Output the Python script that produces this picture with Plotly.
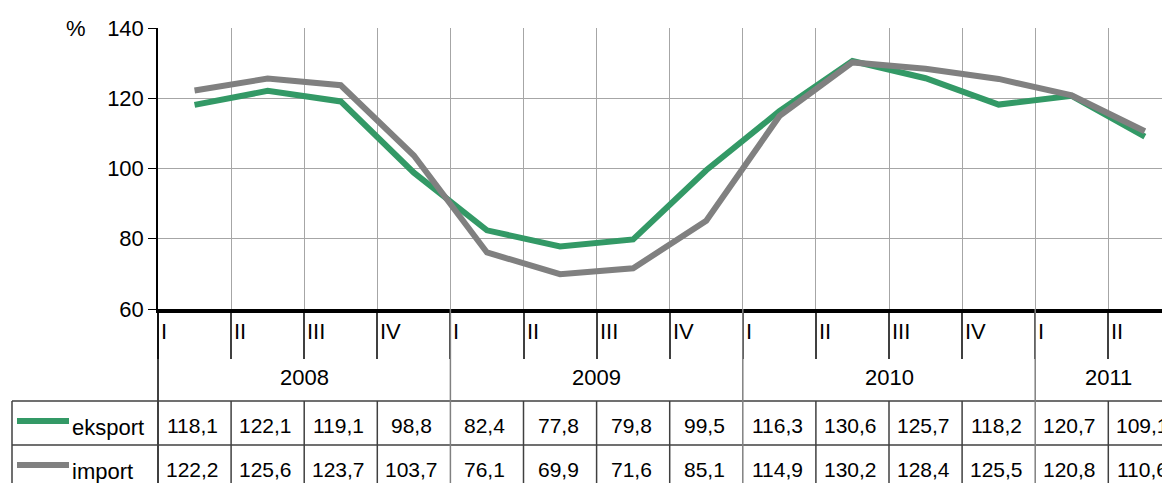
"""
Quarterly export/import indices with data table underneath.
"""
import plotly.graph_objects as go

quarters = ["I", "II", "III", "IV", "I", "II", "III", "IV", "I", "II", "III", "IV", "I", "II"]
years = ["2008", "2009", "2010", "2011"]
year_of = [0, 0, 0, 0, 1, 1, 1, 1, 2, 2, 2, 2, 3, 3]
eksport = [118.1, 122.1, 119.1, 98.8, 82.4, 77.8, 79.8, 99.5, 116.3, 130.6, 125.7, 118.2, 120.7, 109.1]
imports = [122.2, 125.6, 123.7, 103.7, 76.1, 69.9, 71.6, 85.1, 114.9, 130.2, 128.4, 125.5, 120.8, 110.6]
series_names = ["eksport", "import"]
y_ticks = [60, 80, 100, 120, 140]

GREEN = "#339966"
GRAY = "#808080"
FONT = "Liberation Sans, Arial, sans-serif"

# screen geometry; the page body adds an 8px margin around the figure
OFF = 8
SW, SH = 1170, 483
SL, ST = 158, 28
CELL = 73.1


def py(p):
    # screen pixel row -> paper y
    return (SH - p) / (SH - ST)


def px(p):
    # screen pixel column -> paper x
    return (p - SL) / (SW - SL)


def fmt(v):
    return f"{v:.1f}".replace(".", ",")


x = list(range(len(quarters)))
fig = go.Figure()
fig.add_trace(go.Scatter(x=x, y=eksport, mode="lines", line=dict(color=GREEN, width=6), name="eksport"))
fig.add_trace(go.Scatter(x=x, y=imports, mode="lines", line=dict(color=GRAY, width=6), name="import"))

shapes = []
anns = []
dark = "#404040"

# axis line extended through the table
shapes.append(dict(type="line", xref="paper", yref="paper", x0=0, x1=0, y0=py(309), y1=0,
                   line=dict(color="black", width=1.5)))
# table borders
for p in (401, 445):
    shapes.append(dict(type="line", xref="paper", yref="paper", x0=px(12), x1=1, y0=py(p), y1=py(p),
                       line=dict(color=dark, width=1.5)))
shapes.append(dict(type="line", xref="paper", yref="paper", x0=px(12), x1=px(12), y0=py(401), y1=0,
                   line=dict(color=dark, width=1.5)))
# cell separators and year boundaries
for i in range(1, len(quarters)):
    b = i - 0.5
    if year_of[i] != year_of[i - 1]:
        shapes.append(dict(type="line", xref="x", yref="paper", x0=b, x1=b, y0=py(309), y1=0,
                           line=dict(color=GRAY, width=1.5)))
    else:
        shapes.append(dict(type="line", xref="x", yref="paper", x0=b, x1=b, y0=py(401), y1=0,
                           line=dict(color=dark, width=1.5)))

# quarter labels
for i, q in enumerate(quarters):
    anns.append(dict(x=i - 0.5, y=py(331), xref="x", yref="paper", text=q, showarrow=False,
                     xanchor="left", yanchor="middle", xshift=1))
# year labels
for k, yr in enumerate(years):
    idx = [i for i, v in enumerate(year_of) if v == k]
    anns.append(dict(x=sum(idx) / len(idx), y=py(378), xref="x", yref="paper", text=yr, showarrow=False,
                     xanchor="center", yanchor="middle"))
# table values
for vals, prow in ((eksport, 425), (imports, 469)):
    for i, v in enumerate(vals):
        anns.append(dict(x=i, y=py(prow), xref="x", yref="paper", text=fmt(v), showarrow=False,
                         xanchor="center", yanchor="middle", xshift=-2, font=dict(size=21)))
# legend keys
for name, color, prow in ((series_names[0], GREEN, 425), (series_names[1], GRAY, 469)):
    shapes.append(dict(type="line", xref="paper", yref="paper", x0=px(17), x1=px(69), y0=py(prow - 4),
                       y1=py(prow - 4), line=dict(color=color, width=6)))
    anns.append(dict(x=px(70), y=py(prow + 2), xref="paper", yref="paper", text=name, showarrow=False,
                     xanchor="left", yanchor="middle"))
# unit label
anns.append(dict(x=px(88), y=1, xref="paper", yref="paper", text="%", showarrow=False,
                 xanchor="right", yanchor="middle"))

fig.update_layout(
    width=SW - OFF, height=SH - OFF,
    margin=dict(l=SL - OFF, r=0, t=ST - OFF, b=0, autoexpand=False),
    paper_bgcolor="white", plot_bgcolor="white",
    font=dict(family=FONT, size=22, color="black"),
    showlegend=False,
    shapes=shapes,
    annotations=anns,
    xaxis=dict(
        range=[-0.5, -0.5 + (SW - SL) / CELL],
        tickvals=[i - 0.5 for i in range(len(quarters))],
        showticklabels=False,
        showgrid=True, gridcolor="#a6a6a6", gridwidth=1,
        ticks="outside", ticklen=46, tickcolor=dark, tickwidth=1.5,
        showline=True, linecolor="black", linewidth=4,
        zeroline=False, anchor="y", automargin=False,
    ),
    yaxis=dict(
        domain=[py(309), 1],
        range=[60, 140],
        tickvals=y_ticks,
        showgrid=True, gridcolor="#a6a6a6", gridwidth=1,
        ticks="outside", ticklen=8, tickcolor="black",
        showline=True, linecolor="black", linewidth=1.5,
        zeroline=False, automargin=False,
    ),
)

fig.write_html("out.html")
